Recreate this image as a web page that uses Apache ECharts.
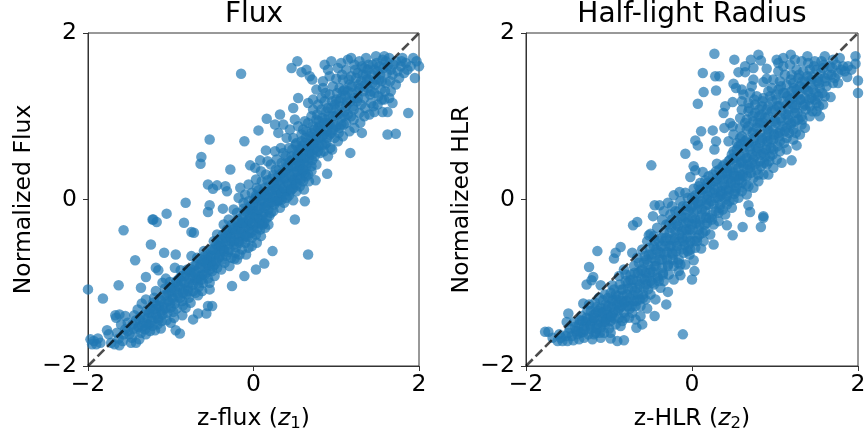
<!DOCTYPE html>
<html><head><meta charset="utf-8">
<style>html,body{margin:0;padding:0;background:#fff}#c{width:864px;height:434px}</style>
<script src="https://cdn.jsdelivr.net/npm/echarts@6/dist/echarts.min.js"></script>
</head><body><div id="c"></div>
<script>
const tickLabels = {'-2':'\u22122','0':'0','2':'2'};
const identity = [[-2,-2],[2,2]];
const fluxOutliers = [[-0.15,1.51],[-0.53,0.72],[-0.11,0.70],[0.06,0.83],[0.16,0.97],[-0.63,0.51],[-0.64,0.43],[-0.28,0.36],[-0.55,0.18],[-0.49,0.13],[-0.44,0.17],[-0.34,0.16],[-0.32,0.10],[-0.82,-0.04],[-0.53,-0.07],[-0.55,-0.15],[-0.37,-0.11],[-1.05,-0.17],[-1.22,-0.24],[1.17,0.56],[0.89,0.31],[0.75,0.23],[0.62,-0.02],[0.48,-0.01],[1.62,0.78],[1.72,0.79],[1.87,1.04],[1.95,1.46],[1.31,0.80],[0.46,1.58],[0.53,1.66],[0.58,1.53],[0.64,1.56],[0.68,1.48],[0.71,1.44],[0.76,1.32],[0.54,1.22],[0.48,1.10],[0.32,1.02],[0.26,0.90],[0.30,0.80],[-0.04,0.41],[0.02,0.38],[0.08,0.47],[0.15,0.59],[0.66,-0.66],[0.50,-0.24],[0.23,-0.62],[0.13,-0.77],[0.03,-0.84],[-0.11,-0.92],[-0.26,-1.04],[-0.53,-1.08],[-0.55,-1.28],[-0.50,-1.28],[-0.67,-1.37],[-0.57,-1.37],[-0.73,-1.44],[-0.86,-1.39],[-0.89,-1.61],[-0.94,-1.57],[-1.57,-0.37],[-1.24,-0.54],[-0.84,-0.28],[-0.75,-0.39],[-0.72,-0.40],[-1.21,-0.24],[-1.17,-0.27],[-1.08,-0.64],[-0.94,-0.66],[-1.43,-0.73],[-1.63,-1.03],[-1.82,-1.19],[-2.0,-1.08],[-1.18,-0.82],[-1.15,-0.85],[-1.30,-0.93],[-1.36,-1.06],[-1.67,-1.39],[-1.77,-1.57]];
const fluxCore = [[-1.97,-1.68],[-1.93,-1.7],[-1.88,-1.67],[-1.9,-1.74],[-1.85,-1.72],[-1.95,-1.74],[-1.72,-1.72],[-1.68,-1.74],[-1.62,-1.75],[-1.58,-1.7],[-1.75,-1.62],[-1.65,-1.6],[-1.6,-1.5],[-1.66,-1.42],[-1.62,-1.38],[-1.55,-1.4],[-1.52,-1.48],[-1.57,-1.62],[-1.5,-1.62],[-1.48,-1.72],[-1.42,-1.72],[-1.38,-1.68],[-1.45,-1.55],[-1.42,-1.45],[-1.4,-1.32],[-1.35,-1.25],[-1.3,-1.2],[-1.36,-1.6],[-1.3,-1.62],[-1.25,-1.58],[-1.33,-1.48],[-1.28,-1.42],[-1.24,-1.3],[-1.2,-1.18],[-1.18,-1.1],[-1.22,-1.52],[-1.16,-1.5],[-1.12,-1.55],[-1.18,-1.38],[-1.12,-1.35],[-1.08,-1.25],[-1.05,-1.15],[-1.02,-1.05],[-1.1,-1.0],[-1.06,-0.95],[-1.05,-1.45],[-1.0,-1.48],[-0.96,-1.42],[-1.0,-1.3],[-0.95,-1.25],[-0.92,-1.12],[-0.98,-1.18],[-0.94,-1.0],[-0.9,-0.95],[-0.88,-0.85],[-0.95,-0.82],[-0.86,-1.22],[-0.82,-1.3],[-0.78,-1.18],[-0.84,-1.08],[-0.78,-1.0],[-0.74,-0.92],[-0.8,-0.84],[-0.72,-0.8],[-0.68,-0.7],[-0.75,-0.68],[-0.7,-1.12],[-0.66,-1.05],[-0.62,-1.1],[-0.68,-0.95],[-0.62,-0.9],[-0.58,-0.82],[-0.64,-0.78],[-0.56,-0.72],[-0.6,-0.62],[-0.52,-0.6],[-0.55,-0.95],[-0.5,-0.86],[-0.47,-0.78],[-0.52,-0.7],[-0.46,-0.66],[-0.42,-0.56],[-0.48,-0.5],[-0.4,-0.48],[-0.44,-0.42],[-0.38,-0.72],[-0.33,-0.68],[-0.36,-0.6],[-0.3,-0.54],[-0.34,-0.46],[-0.28,-0.42],[-0.32,-0.36],[-0.26,-0.3],[-0.3,-0.24],[-0.36,-0.3],[-0.27,-0.7],[-0.22,-0.64],[-0.2,-0.72],[-0.24,-0.54],[-0.18,-0.5],[-0.22,-0.42],[-0.16,-0.36],[-0.2,-0.28],[-0.14,-0.22],[-0.2,-0.16],[-0.24,-0.12],[-0.14,-0.6],[-0.1,-0.52],[-0.06,-0.58],[-0.1,-0.42],[-0.05,-0.36],[-0.1,-0.28],[-0.04,-0.2],[-0.1,-0.14],[-0.04,-0.08],[-0.12,-0.04],[-0.18,0.02],[-0.1,0.06],[-0.02,-0.46],[0.03,-0.42],[0.08,-0.36],[0.02,-0.3],[0.06,-0.22],[0.0,-0.14],[0.06,-0.08],[0.01,0.0],[0.07,0.04],[-0.02,0.08],[0.04,0.14],[-0.06,0.18],[-0.16,0.14],[0.13,-0.28],[0.18,-0.3],[0.12,-0.16],[0.18,-0.12],[0.13,-0.04],[0.2,0.02],[0.12,0.1],[0.19,0.16],[0.1,0.22],[0.03,0.24],[0.15,0.3],[0.09,0.34],[0.25,-0.06],[0.32,-0.1],[0.27,0.04],[0.34,0.0],[0.3,0.12],[0.25,0.2],[0.33,0.24],[0.24,0.3],[0.31,0.36],[0.21,0.42],[0.28,0.48],[0.17,0.46],[0.38,0.06],[0.44,0.1],[0.41,0.2],[0.48,0.14],[0.45,0.28],[0.38,0.34],[0.47,0.4],[0.39,0.44],[0.46,0.52],[0.36,0.56],[0.43,0.62],[0.33,0.62],[0.26,0.58],[0.52,0.1],[0.56,0.16],[0.53,0.26],[0.6,0.22],[0.55,0.36],[0.62,0.32],[0.54,0.46],[0.61,0.44],[0.53,0.56],[0.6,0.56],[0.51,0.66],[0.58,0.7],[0.48,0.74],[0.4,0.74],[0.44,0.84],[0.36,0.9],[0.66,0.3],[0.7,0.4],[0.67,0.5],[0.74,0.52],[0.68,0.62],[0.72,0.68],[0.63,0.74],[0.7,0.8],[0.6,0.84],[0.54,0.88],[0.62,0.94],[0.5,0.96],[0.7,1.0],[0.76,0.62],[0.8,0.74],[0.85,0.58],[0.88,0.68],[0.78,0.86],[0.84,0.84],[0.76,0.96],[0.83,0.98],[0.72,1.08],[0.78,1.14],[0.66,1.16],[0.72,1.2],[0.82,1.22],[0.9,0.52],[0.95,0.6],[0.92,0.78],[0.98,0.74],[0.9,0.92],[0.97,0.9],[0.88,1.06],[0.94,1.1],[0.86,1.18],[0.92,1.26],[0.84,1.34],[1.02,0.7],[1.08,0.76],[1.04,0.86],[1.12,0.92],[1.06,0.98],[1.16,0.82],[1.22,0.86],[1.0,1.08],[1.1,1.06],[1.18,1.0],[1.0,1.2],[1.06,1.22],[0.96,1.36],[1.04,1.34],[1.13,1.18],[1.2,1.12],[1.28,1.04],[1.3,1.14],[1.22,1.22],[1.34,1.0],[1.4,1.02],[1.46,1.05],[1.56,1.05],[1.62,1.05],[1.1,1.32],[1.16,1.38],[1.26,1.3],[1.34,1.22],[1.42,1.16],[1.5,1.14],[1.58,1.2],[1.64,1.22],[1.68,1.16],[1.0,1.45],[0.92,1.48],[1.08,1.44],[1.18,1.48],[1.3,1.42],[1.38,1.34],[1.46,1.28],[1.54,1.32],[1.66,1.3],[0.84,1.42],[0.9,1.56],[0.86,1.62],[0.94,1.66],[1.02,1.58],[1.06,1.64],[1.12,1.56],[1.14,1.68],[1.22,1.62],[1.26,1.52],[1.36,1.5],[1.44,1.4],[1.52,1.44],[1.6,1.4],[1.72,1.38],[1.18,1.7],[1.28,1.66],[1.34,1.58],[1.36,1.7],[1.44,1.62],[1.5,1.54],[1.56,1.68],[1.62,1.6],[1.68,1.5],[1.76,1.46],[1.82,1.52],[1.48,1.72],[1.58,1.72],[1.64,1.7],[1.72,1.66],[1.78,1.6],[1.86,1.56],[1.9,1.6],[1.97,1.66],[1.93,1.7],[2.0,1.6],[1.8,1.7]];
const fluxFill = [[-1.63,-1.67],[-1.55,-1.56],[-1.47,-1.66],[-1.44,-1.39],[-1.39,-1.53],[-1.37,-1.41],[-1.31,-1.56],[-1.29,-1.33],[-1.27,-1.5],[-1.23,-1.41],[-1.21,-1.24],[-1.19,-1.57],[-1.17,-1.31],[-1.15,-1.44],[-1.13,-1.2],[-1.11,-1.46],[-1.09,-1.33],[-1.07,-1.07],[-1.04,-1.36],[-1.03,-1.22],[-1.01,-0.99],[-0.99,-1.11],[-0.97,-1.35],[-0.93,-1.31],[-0.91,-1.04],[-0.89,-1.18],[-0.87,-0.98],[-0.85,-1.27],[-0.83,-0.92],[-0.81,-1.14],[-0.79,-1.06],[-0.77,-0.87],[-0.76,-1.24],[-0.73,-1.1],[-0.71,-0.97],[-0.69,-0.86],[-0.67,-1.15],[-0.65,-0.92],[-0.63,-0.72],[-0.61,-1.0],[-0.59,-0.68],[-0.57,-0.88],[-0.55,-0.79],[-0.53,-1.0],[-0.51,-0.76],[-0.49,-0.6],[-0.47,-0.92],[-0.45,-0.54],[-0.44,-0.82],[-0.42,-0.7],[-0.41,-0.62],[-0.39,-0.84],[-0.37,-0.52],[-0.35,-0.76],[-0.33,-0.42],[-0.31,-0.63],[-0.29,-0.8],[-0.27,-0.5],[-0.25,-0.36],[-0.23,-0.71],[-0.21,-0.57],[-0.19,-0.33],[-0.17,-0.44],[-0.17,-0.66],[-0.15,-0.28],[-0.13,-0.48],[-0.12,-0.11],[-0.11,-0.34],[-0.09,-0.66],[-0.07,-0.25],[-0.07,-0.45],[-0.06,-0.02],[-0.04,-0.31],[-0.03,-0.13],[-0.02,-0.56],[0.0,-0.37],[0.0,-0.05],[0.01,-0.22],[0.03,0.05],[0.04,-0.52],[0.05,-0.14],[0.06,0.11],[0.07,-0.28],[0.09,-0.44],[0.09,-0.02],[0.1,0.06],[0.11,-0.2],[0.14,-0.34],[0.14,0.14],[0.15,-0.08],[0.16,0.04],[0.17,0.23],[0.19,-0.2],[0.21,0.1],[0.22,-0.03],[0.22,0.25],[0.24,-0.14],[0.26,0.13],[0.27,0.36],[0.29,-0.02],[0.29,0.22],[0.31,0.06],[0.33,0.3],[0.34,0.44],[0.35,0.13],[0.37,-0.04],[0.37,0.25],[0.39,0.52],[0.4,0.1],[0.42,0.38],[0.43,0.05],[0.44,0.46],[0.46,0.2],[0.47,0.6],[0.49,0.32],[0.5,0.48],[0.51,0.2],[0.52,0.68],[0.53,0.4],[0.55,0.6],[0.56,0.26],[0.57,0.5],[0.58,0.78],[0.59,0.33],[0.6,0.65],[0.61,0.12],[0.62,0.5],[0.64,0.4],[0.64,0.82],[0.65,0.62],[0.66,0.92],[0.67,0.22],[0.68,0.56],[0.69,0.72],[0.71,0.47],[0.72,0.88],[0.73,0.6],[0.75,0.76],[0.76,0.42],[0.77,1.02],[0.79,0.65],[0.8,0.88],[0.81,0.56],[0.82,1.08],[0.83,0.76],[0.85,0.92],[0.86,0.66],[0.87,1.28],[0.89,0.82],[0.91,1.0],[0.93,0.62],[0.95,1.18],[0.96,0.84],[0.99,1.0],[1.01,1.28],[1.03,0.8],[1.05,1.12],[1.07,1.5],[1.09,0.9],[1.11,1.25],[1.14,1.02],[1.15,1.44],[1.19,1.28],[1.21,0.96],[1.23,1.56],[1.25,1.18],[1.27,1.38],[1.29,0.92],[1.31,1.6],[1.33,1.3],[1.35,1.1],[1.37,1.44],[1.39,1.62],[1.41,1.26],[1.43,1.5],[1.45,1.12],[1.47,1.38],[1.49,1.64],[1.51,1.24],[1.53,1.5],[1.55,1.2],[1.57,1.58],[1.59,1.3],[1.61,1.52],[1.65,1.42],[1.69,1.62],[1.74,1.54],[1.79,1.66],[1.84,1.64]];
const fluxDense = [[-1.52,-1.58],[-1.46,-1.5],[-1.41,-1.56],[-1.38,-1.44],[-1.34,-1.52],[-1.32,-1.38],[-1.29,-1.5],[-1.26,-1.36],[-1.23,-1.46],[-1.21,-1.32],[-1.18,-1.26],[-1.16,-1.42],[-1.14,-1.28],[-1.12,-1.22],[-1.1,-1.38],[-1.08,-1.15],[-1.06,-1.3],[-1.03,-1.12],[-1.01,-1.24],[-0.99,-1.06],[-0.97,-1.2],[-0.95,-1.08],[-0.93,-0.98],[-0.91,-1.16],[-0.89,-1.05],[-0.87,-0.92],[-0.85,-1.12],[-0.83,-1.0],[-0.81,-0.88],[-0.79,-1.1],[-0.77,-0.95],[-0.75,-0.84],[-0.73,-1.02],[-0.71,-0.88],[-0.69,-0.78],[-0.67,-1.0],[-0.65,-0.82],[-0.63,-0.96],[-0.61,-0.74],[-0.59,-0.9],[-0.57,-0.76],[-0.55,-0.66],[-0.53,-0.84],[-0.51,-0.68],[-0.49,-0.8],[-0.47,-0.6],[-0.45,-0.74],[-0.43,-0.5],[-0.41,-0.68],[-0.39,-0.56],[-0.37,-0.42],[-0.35,-0.62],[-0.33,-0.5],[-0.31,-0.4],[-0.29,-0.6],[-0.27,-0.46],[-0.25,-0.34],[-0.23,-0.5],[-0.21,-0.38],[-0.19,-0.24],[-0.17,-0.52],[-0.15,-0.4],[-0.13,-0.28],[-0.11,-0.18],[-0.09,-0.44],[-0.08,-0.32],[-0.06,-0.12],[-0.05,-0.24],[-0.03,-0.4],[-0.01,-0.28],[0.0,-0.06],[0.02,-0.18],[0.03,0.02],[0.05,-0.34],[0.07,-0.12],[0.08,-0.24],[0.1,0.0],[0.11,-0.3],[0.13,-0.1],[0.15,0.06],[0.16,-0.22],[0.18,-0.04],[0.2,0.1],[0.21,-0.16],[0.23,0.04],[0.24,0.18],[0.26,-0.02],[0.28,0.12],[0.3,0.28],[0.31,0.0],[0.32,0.18],[0.34,0.08],[0.35,0.32],[0.37,0.14],[0.39,0.26],[0.4,0.02],[0.41,0.4],[0.43,0.18],[0.44,0.3],[0.46,0.12],[0.47,0.48],[0.49,0.24],[0.5,0.4],[0.52,0.18],[0.53,0.34],[0.54,0.54],[0.56,0.42],[0.57,0.24],[0.58,0.6],[0.6,0.36],[0.61,0.5],[0.63,0.68],[0.64,0.28],[0.65,0.44],[0.67,0.58],[0.69,0.76],[0.7,0.34],[0.71,0.54],[0.73,0.66],[0.74,0.84],[0.76,0.72],[0.78,0.58],[0.79,0.94],[0.81,0.82],[0.83,0.66],[0.85,0.78],[0.87,0.96],[0.89,0.74],[0.9,1.1],[0.92,0.9],[0.94,0.8],[0.96,1.0],[0.98,1.14],[1.0,0.88],[1.02,1.02],[1.04,1.18],[1.06,0.9],[1.08,1.3],[1.1,1.0],[1.12,1.12],[1.14,1.3],[1.17,1.18],[1.19,1.36],[1.21,1.08],[1.24,1.46],[1.26,1.22],[1.28,1.34],[1.32,1.5],[1.35,1.38],[1.38,1.56],[1.4,1.44],[1.42,1.3],[1.46,1.56],[1.48,1.44],[1.52,1.6],[1.55,1.42],[1.6,1.66],[1.66,1.56]];
const hlrOutliers = [[0.27,1.75],[0.51,1.68],[0.13,1.52],[0.28,1.48],[0.33,1.48],[0.14,1.29],[0.29,1.31],[0.5,1.39],[0.53,1.34],[0.07,1.15],[0.4,1.12],[0.38,1.04],[0.49,1.17],[0.11,0.82],[0.25,0.83],[0.39,0.86],[0.49,0.88],[0.04,0.71],[0.07,0.65],[0.29,0.70],[0.27,0.6],[-0.08,0.55],[-0.49,0.41],[0.02,0.40],[0.04,0.35],[-0.02,0.27],[0.13,0.33],[0.3,0.43],[-0.45,-0.07],[-0.39,-0.07],[-0.47,-0.2],[-0.22,0.05],[-0.15,0.09],[-0.29,-0.04],[1.2,0.47],[1.26,0.65],[0.68,-0.07],[0.7,-0.15],[0.86,-0.2],[1.67,1.23],[1.54,1.0],[1.87,1.47],[1.97,1.72],[1.97,1.63],[2.0,1.43],[2.0,1.28],[1.6,1.72],[1.39,1.72],[1.19,1.74],[1.02,1.68],[0.8,1.74],[0.83,1.67],[0.71,1.68],[0.64,1.6],[0.56,1.53],[0.74,1.58],[0.64,1.53],[0.74,1.44],[0.9,1.57],[0.86,1.41],[0.9,1.45],[-0.11,-1.62],[0.83,-0.33],[0.61,-0.33],[0.49,-0.43],[0.86,-0.22],[0.42,-0.31],[0.26,-0.54],[0.11,-0.59],[0.02,-0.73],[0.03,-0.86],[0.0,-0.96],[-0.14,-0.91],[-0.29,-1.11],[-0.31,-1.26],[-0.45,-1.4],[-0.54,-1.31],[-0.6,-1.5],[-0.67,-1.54],[-0.82,-1.69],[-0.9,-1.7],[-0.98,-1.67],[-1.14,-0.62],[-0.86,-0.57],[-0.92,-0.64],[-0.94,-0.71],[-0.72,-0.64],[-1.24,-0.81],[-1.19,-0.93],[-1.21,-0.97],[-1.27,-1.02],[-1.1,-1.03],[-0.96,-1.03],[-1.31,-1.25],[-1.49,-1.37],[-1.51,-1.47],[-1.77,-1.59],[-1.73,-1.59],[-0.71,-0.31],[-0.66,-0.27],[-0.5,-0.41],[-0.52,-0.43]];
const hlrCore = [[-1.68,-1.66],[-1.62,-1.7],[-1.56,-1.7],[-1.6,-1.62],[-1.52,-1.64],[-1.5,-1.7],[-1.45,-1.64],[-1.47,-1.55],[-1.4,-1.58],[-1.42,-1.47],[-1.36,-1.68],[-1.34,-1.6],[-1.3,-1.66],[-1.36,-1.5],[-1.3,-1.52],[-1.33,-1.4],[-1.27,-1.42],[-1.25,-1.62],[-1.2,-1.68],[-1.22,-1.56],[-1.16,-1.6],[-1.2,-1.46],[-1.14,-1.5],[-1.22,-1.34],[-1.16,-1.36],[-1.24,-1.26],[-1.17,-1.24],[-1.1,-1.66],[-1.06,-1.6],[-1.1,-1.54],[-1.04,-1.5],[-1.08,-1.42],[-1.02,-1.38],[-1.1,-1.3],[-1.04,-1.26],[-1.12,-1.18],[-1.05,-1.14],[-0.98,-1.6],[-0.98,-1.46],[-0.92,-1.5],[-0.95,-1.36],[-0.88,-1.42],[-0.96,-1.22],[-0.9,-1.26],[-0.98,-1.12],[-0.92,-1.14],[-0.84,-1.46],[-0.82,-1.36],[-0.76,-1.42],[-0.84,-1.22],[-0.78,-1.28],[-0.72,-1.36],[-0.68,-1.44],[-0.62,-1.4],[-0.85,-1.08],[-0.78,-1.14],[-0.7,-1.22],[-0.62,-1.28],[-0.88,-0.92],[-0.8,-0.98],[-0.72,-1.06],[-0.65,-1.14],[-0.56,-1.2],[-0.82,-0.84],[-0.74,-0.9],[-0.66,-0.98],[-0.58,-1.06],[-0.5,-1.14],[-0.44,-1.2],[-0.7,-0.8],[-0.62,-0.86],[-0.54,-0.94],[-0.46,-1.02],[-0.38,-1.06],[-0.66,-0.7],[-0.58,-0.76],[-0.5,-0.84],[-0.42,-0.92],[-0.34,-0.98],[-0.6,-0.6],[-0.52,-0.66],[-0.44,-0.74],[-0.36,-0.82],[-0.28,-0.9],[-0.22,-0.96],[-0.54,-0.5],[-0.46,-0.56],[-0.38,-0.64],[-0.3,-0.72],[-0.22,-0.8],[-0.16,-0.86],[-0.46,-0.44],[-0.4,-0.5],[-0.32,-0.56],[-0.24,-0.64],[-0.16,-0.72],[-0.08,-0.78],[-0.42,-0.34],[-0.34,-0.4],[-0.26,-0.48],[-0.18,-0.56],[-0.1,-0.64],[-0.03,-0.66],[-0.36,-0.24],[-0.28,-0.3],[-0.2,-0.38],[-0.12,-0.46],[-0.04,-0.54],[0.04,-0.58],[-0.34,-0.14],[-0.26,-0.18],[-0.18,-0.26],[-0.1,-0.34],[-0.02,-0.42],[0.06,-0.46],[0.14,-0.5],[-0.24,-0.08],[-0.16,-0.14],[-0.08,-0.22],[0.0,-0.3],[0.08,-0.36],[0.16,-0.38],[0.22,-0.42],[-0.14,-0.02],[-0.06,-0.08],[0.02,-0.16],[0.1,-0.24],[0.18,-0.28],[0.26,-0.3],[0.32,-0.26],[-0.08,0.08],[0.0,0.02],[0.08,-0.06],[0.16,-0.14],[0.24,-0.18],[0.32,-0.16],[0.4,-0.18],[0.02,0.13],[0.1,0.08],[0.18,-0.0],[0.26,-0.06],[0.34,-0.06],[0.42,-0.06],[0.48,-0.1],[0.1,0.2],[0.18,0.14],[0.26,0.08],[0.34,0.04],[0.42,0.04],[0.5,0.0],[0.56,0.02],[0.2,0.28],[0.28,0.22],[0.36,0.16],[0.44,0.12],[0.52,0.1],[0.6,0.1],[0.66,0.06],[0.36,0.3],[0.44,0.24],[0.52,0.2],[0.6,0.2],[0.68,0.16],[0.74,0.14],[0.42,0.38],[0.5,0.32],[0.58,0.3],[0.66,0.28],[0.74,0.26],[0.8,0.22],[0.46,0.48],[0.54,0.42],[0.62,0.4],[0.7,0.38],[0.78,0.36],[0.86,0.3],[0.92,0.3],[0.5,0.58],[0.58,0.52],[0.66,0.5],[0.74,0.48],[0.82,0.46],[0.9,0.42],[0.98,0.38],[0.54,0.68],[0.62,0.62],[0.7,0.6],[0.78,0.58],[0.86,0.56],[0.94,0.52],[1.02,0.48],[1.08,0.44],[0.5,0.78],[0.58,0.74],[0.66,0.72],[0.74,0.7],[0.82,0.68],[0.9,0.64],[0.98,0.6],[1.06,0.58],[1.14,0.6],[0.44,0.7],[0.46,0.92],[0.58,0.86],[0.66,0.84],[0.74,0.82],[0.82,0.8],[0.9,0.76],[0.98,0.72],[1.06,0.7],[1.14,0.74],[1.22,0.72],[0.58,0.98],[0.66,0.96],[0.74,0.94],[0.82,0.92],[0.9,0.88],[0.98,0.84],[1.06,0.82],[1.14,0.86],[1.22,0.84],[1.3,0.78],[0.6,1.08],[0.68,1.06],[0.76,1.04],[0.84,1.02],[0.92,1.0],[1.0,0.96],[1.08,0.94],[1.16,0.96],[1.24,0.94],[1.32,0.9],[1.36,0.86],[0.6,1.18],[0.68,1.16],[0.76,1.14],[0.84,1.12],[0.92,1.12],[1.0,1.08],[1.08,1.06],[1.16,1.08],[1.24,1.04],[1.32,1.0],[1.42,1.0],[1.5,1.06],[0.62,1.26],[0.7,1.28],[0.78,1.24],[0.86,1.22],[0.94,1.24],[1.02,1.2],[1.1,1.18],[1.18,1.2],[1.26,1.14],[1.34,1.12],[1.42,1.12],[1.5,1.16],[1.58,1.14],[0.6,1.32],[0.72,1.36],[0.96,1.34],[1.04,1.32],[1.12,1.28],[1.2,1.3],[1.28,1.26],[1.36,1.22],[1.44,1.22],[1.52,1.24],[1.6,1.24],[0.98,1.44],[1.06,1.42],[1.14,1.38],[1.22,1.4],[1.3,1.36],[1.38,1.32],[1.46,1.32],[1.54,1.34],[1.62,1.36],[1.7,1.4],[1.76,1.4],[1.04,1.54],[1.12,1.5],[1.2,1.5],[1.28,1.46],[1.36,1.42],[1.44,1.44],[1.52,1.46],[1.6,1.46],[1.68,1.5],[1.76,1.52],[1.84,1.54],[1.92,1.56],[1.04,1.64],[1.1,1.6],[1.18,1.62],[1.26,1.56],[1.34,1.54],[1.42,1.56],[1.5,1.56],[1.58,1.58],[1.66,1.6],[1.74,1.62],[1.82,1.6],[1.1,1.7],[1.24,1.68],[1.32,1.66],[1.4,1.64],[1.48,1.66],[1.56,1.66],[1.7,1.68],[1.78,1.7]];
const hlrFill = [[-1.58,-1.66],[-1.49,-1.6],[-1.43,-1.69],[-1.38,-1.62],[-1.35,-1.45],[-1.31,-1.59],[-1.28,-1.47],[-1.26,-1.33],[-1.23,-1.51],[-1.19,-1.39],[-1.18,-1.62],[-1.15,-1.29],[-1.13,-1.44],[-1.11,-1.6],[-1.09,-1.36],[-1.07,-1.21],[-1.05,-1.47],[-1.03,-1.32],[-1.01,-1.18],[-1.0,-1.55],[-0.99,-1.41],[-0.97,-1.29],[-0.94,-1.08],[-0.93,-1.43],[-0.91,-1.2],[-0.89,-1.33],[-0.87,-1.02],[-0.86,-1.52],[-0.85,-1.28],[-0.83,-1.16],[-0.81,-1.42],[-0.8,-0.9],[-0.79,-1.22],[-0.77,-1.07],[-0.75,-1.31],[-0.74,-0.97],[-0.71,-1.15],[-0.69,-0.88],[-0.68,-1.28],[-0.66,-1.06],[-0.64,-0.76],[-0.63,-1.2],[-0.61,-0.95],[-0.59,-1.14],[-0.57,-0.68],[-0.56,-0.88],[-0.55,-1.02],[-0.53,-0.78],[-0.51,-0.58],[-0.5,-0.98],[-0.48,-0.7],[-0.47,-0.87],[-0.45,-0.5],[-0.43,-0.8],[-0.41,-0.62],[-0.4,-0.98],[-0.37,-0.46],[-0.36,-0.72],[-0.35,-0.88],[-0.33,-0.5],[-0.31,-0.3],[-0.3,-0.63],[-0.29,-0.8],[-0.27,-0.4],[-0.25,-0.56],[-0.24,-0.24],[-0.23,-0.72],[-0.21,-0.46],[-0.2,-0.14],[-0.19,-0.62],[-0.17,-0.32],[-0.15,-0.5],[-0.14,-0.78],[-0.13,-0.2],[-0.12,-0.38],[-0.11,-0.08],[-0.09,-0.55],[-0.07,-0.28],[-0.06,-0.45],[-0.05,0.02],[-0.04,-0.14],[-0.03,-0.36],[-0.02,-0.6],[0.0,-0.22],[0.01,-0.07],[0.03,-0.5],[0.04,0.05],[0.05,-0.28],[0.06,-0.12],[0.08,0.16],[0.09,-0.42],[0.11,-0.02],[0.12,-0.18],[0.13,0.12],[0.15,-0.3],[0.16,0.23],[0.17,-0.07],[0.19,0.05],[0.21,-0.22],[0.22,0.18],[0.23,-0.02],[0.25,0.3],[0.27,0.12],[0.29,-0.14],[0.3,0.25],[0.31,0.02],[0.33,0.36],[0.35,0.1],[0.37,-0.12],[0.38,0.24],[0.39,0.42],[0.41,0.12],[0.43,0.32],[0.45,-0.02],[0.47,0.2],[0.48,0.54],[0.49,0.38],[0.51,0.07],[0.53,0.5],[0.55,0.28],[0.56,0.64],[0.57,0.14],[0.59,0.44],[0.6,0.76],[0.61,0.3],[0.63,0.56],[0.64,0.92],[0.65,0.18],[0.67,0.42],[0.68,0.68],[0.69,1.1],[0.71,0.32],[0.72,0.54],[0.73,0.8],[0.75,1.2],[0.76,0.42],[0.77,0.64],[0.79,0.92],[0.8,0.3],[0.81,1.08],[0.83,0.54],[0.84,0.74],[0.85,1.18],[0.87,0.44],[0.88,0.98],[0.89,0.6],[0.91,0.84],[0.92,1.3],[0.93,0.46],[0.95,0.72],[0.96,1.06],[0.97,0.54],[0.99,0.94],[1.01,1.26],[1.03,0.64],[1.04,0.8],[1.05,1.12],[1.07,1.36],[1.09,0.88],[1.11,0.68],[1.13,1.02],[1.15,1.24],[1.17,0.8],[1.19,1.44],[1.2,0.92],[1.21,1.14],[1.23,1.34],[1.25,0.8],[1.27,1.04],[1.29,1.5],[1.31,1.2],[1.33,0.96],[1.35,1.34],[1.37,1.08],[1.39,1.48],[1.41,1.2],[1.43,1.38],[1.45,1.06],[1.47,1.6],[1.49,1.28],[1.51,1.42],[1.53,1.12],[1.55,1.52],[1.57,1.28],[1.59,1.62],[1.61,1.42],[1.64,1.5],[1.69,1.58],[1.72,1.46],[1.8,1.56],[1.88,1.6]];
const hlrDense = [[-1.41,-1.53],[-1.37,-1.58],[-1.32,-1.46],[-1.29,-1.56],[-1.25,-1.44],[-1.21,-1.5],[-1.18,-1.42],[-1.15,-1.55],[-1.13,-1.34],[-1.09,-1.48],[-1.07,-1.36],[-1.03,-1.44],[-1.01,-1.28],[-0.97,-1.4],[-0.95,-1.2],[-0.93,-1.32],[-0.89,-1.16],[-0.87,-1.3],[-0.83,-1.08],[-0.81,-1.24],[-0.77,-1.0],[-0.75,-1.18],[-0.73,-1.28],[-0.71,-0.96],[-0.69,-1.1],[-0.67,-1.22],[-0.65,-0.88],[-0.63,-1.02],[-0.6,-0.84],[-0.59,-1.18],[-0.57,-0.96],[-0.55,-0.72],[-0.53,-1.08],[-0.51,-0.88],[-0.49,-0.66],[-0.48,-1.0],[-0.45,-0.8],[-0.43,-0.6],[-0.41,-0.94],[-0.39,-0.72],[-0.37,-0.56],[-0.35,-0.9],[-0.33,-0.66],[-0.31,-0.46],[-0.29,-0.78],[-0.27,-0.56],[-0.25,-0.34],[-0.23,-0.66],[-0.21,-0.5],[-0.19,-0.3],[-0.17,-0.76],[-0.15,-0.42],[-0.13,-0.6],[-0.12,-0.22],[-0.1,-0.5],[-0.08,-0.12],[-0.07,-0.36],[-0.05,-0.62],[-0.04,-0.26],[-0.02,-0.5],[-0.01,-0.1],[0.01,-0.36],[0.03,0.0],[0.04,-0.24],[0.06,-0.5],[0.07,-0.04],[0.09,-0.3],[0.1,0.12],[0.12,-0.12],[0.13,-0.4],[0.15,0.04],[0.17,-0.22],[0.19,0.2],[0.2,-0.06],[0.22,0.1],[0.24,-0.24],[0.26,0.22],[0.28,0.02],[0.29,0.34],[0.31,0.14],[0.33,-0.1],[0.34,0.28],[0.36,0.06],[0.37,0.4],[0.39,0.18],[0.4,0.0],[0.42,0.3],[0.44,0.46],[0.45,0.1],[0.46,0.34],[0.48,0.22],[0.5,0.5],[0.51,0.28],[0.53,0.14],[0.54,0.6],[0.56,0.38],[0.57,0.24],[0.59,0.66],[0.6,0.46],[0.62,0.28],[0.64,0.7],[0.65,0.5],[0.67,0.36],[0.68,0.88],[0.7,0.64],[0.72,0.44],[0.73,1.0],[0.75,0.74],[0.76,0.52],[0.78,0.86],[0.8,0.62],[0.81,1.0],[0.83,0.4],[0.85,0.72],[0.86,0.92],[0.88,0.52],[0.9,1.08],[0.91,0.7],[0.93,0.82],[0.95,0.62],[0.97,1.18],[0.99,0.78],[1.01,0.92],[1.03,1.12],[1.05,0.76],[1.07,0.98],[1.1,1.28],[1.12,0.82],[1.14,1.14],[1.16,1.02],[1.19,0.9],[1.21,1.22],[1.24,1.1],[1.26,1.32],[1.28,0.96],[1.3,1.2],[1.33,1.42],[1.36,1.14],[1.4,1.3],[1.44,1.48],[1.48,1.2],[1.53,1.4]];
const fluxPoints = fluxOutliers.concat(fluxCore, fluxFill, fluxDense);
const hlrPoints = hlrOutliers.concat(hlrCore, hlrFill, hlrDense);

const chart = echarts.init(document.getElementById('c'), null, {renderer:'canvas'});
const FONT = '"DejaVu Sans"';
const rich = {
  i:{fontFamily:FONT,fontSize:23.5,fontStyle:'italic',color:'#000'},
  s:{fontFamily:FONT,fontSize:16.5,color:'#000',verticalAlign:'bottom',padding:[9,0,0,0]}
};
function xAxis(i,name){return {gridIndex:i,type:'value',min:-2,max:2,interval:2,name:name,nameLocation:'middle',nameGap:40,
  nameTextStyle:{fontFamily:FONT,fontSize:23.5,color:'#000',rich:rich},
  axisLine:{onZero:false,lineStyle:{color:'#333',width:1}},axisTick:{length:5,lineStyle:{color:'#333',width:1}},
  axisLabel:{fontFamily:FONT,fontSize:23.5,color:'#000',margin:7,formatter:v=>tickLabels[v]},splitLine:{show:false}};}
function yAxis(i,name){return {gridIndex:i,type:'value',min:-2,max:2,interval:2,name:name,nameLocation:'middle',nameGap:52,
  nameTextStyle:{fontFamily:FONT,fontSize:23.5,color:'#000'},
  axisLine:{onZero:false,lineStyle:{color:'#333',width:1}},axisTick:{length:5,lineStyle:{color:'#333',width:1}},
  axisLabel:{fontFamily:FONT,fontSize:23.5,color:'#000',margin:11,padding:[3,0,0,0],formatter:v=>tickLabels[v]},splitLine:{show:false}};}
function scatter(i,d){return {type:'scatter',xAxisIndex:i,yAxisIndex:i,data:d,symbolSize:10.5,clip:true,
  itemStyle:{color:'#1f77b4',opacity:0.7},emphasis:{disabled:true},z:2,animation:false};}
function diag(i){return {type:'line',xAxisIndex:i,yAxisIndex:i,data:identity,showSymbol:false,symbol:'none',clip:true,
  lineStyle:{color:'#000',opacity:0.7,width:2.6,type:[9.5,4]},z:3,animation:false};}
chart.setOption({
  animation:false,backgroundColor:'#fff',
  title:[
    {text:'Flux',left:249,top:-4,textAlign:'center',textStyle:{fontFamily:FONT,fontSize:28,fontWeight:'normal',color:'#000'}},
    {text:'Half-light Radius',left:687,top:-4,textAlign:'center',textStyle:{fontFamily:FONT,fontSize:28,fontWeight:'normal',color:'#000'}}
  ],
  grid:[
    {left:88,top:33,width:331,height:333,outerBoundsMode:'none',show:true,borderColor:'#333',borderWidth:1,backgroundColor:'#fff'},
    {left:526,top:33,width:332,height:333,outerBoundsMode:'none',show:true,borderColor:'#333',borderWidth:1,backgroundColor:'#fff'}
  ],
  xAxis:[xAxis(0,'z-flux ({i|z}{s|1})'),xAxis(1,'z-HLR ({i|z}{s|2})')],
  yAxis:[yAxis(0,'Normalized Flux'),yAxis(1,'Normalized HLR')],
  series:[scatter(0,fluxPoints),diag(0),scatter(1,hlrPoints),diag(1)]
});
</script></body></html>
